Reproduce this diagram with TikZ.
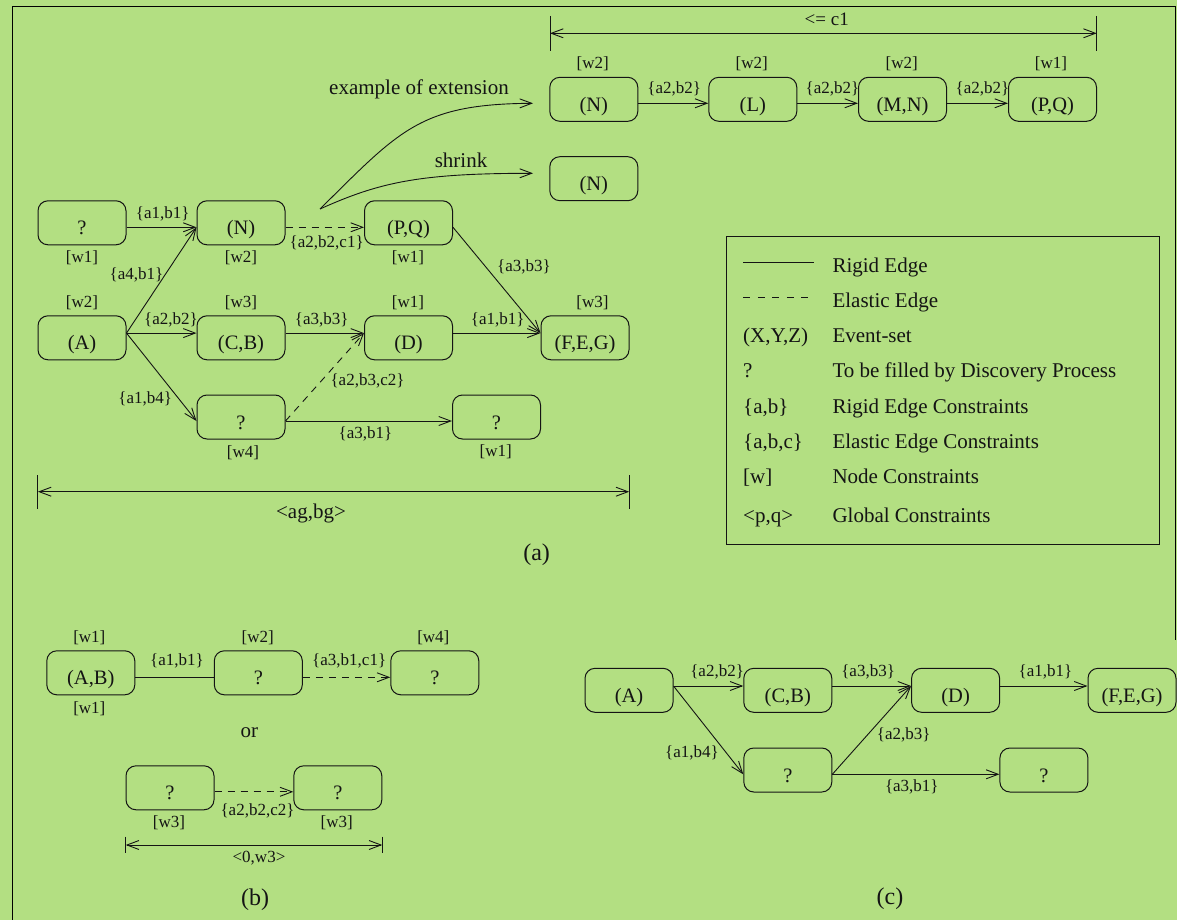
\documentclass[tikz,border=0pt]{standalone}
\usepackage{fontspec}
\setmainfont{Liberation Serif}
\usetikzlibrary{arrows.meta,calc}
\definecolor{bg}{RGB}{179,223,130}
\definecolor{ink}{RGB}{20,20,20}
\newcommand{\fsz}[1]{\fontsize{#1}{#1}\selectfont}
\begin{document}
\begin{tikzpicture}[x=1pt,y=-1pt,
  every node/.style={text=ink},
  box/.style={draw=ink, line width=1pt, rounded corners=10pt, minimum width=88pt,
    inner sep=0pt, text height=34pt, text depth=10pt, font=\fsz{20.5}},
  elab/.style={inner sep=0pt, font=\fsz{17}},
  big/.style={inner sep=0pt, font=\fsz{21}},
  rig/.style={draw=ink, line width=0.9pt, -{Straight Barb[length=12pt,width=9pt,line width=0.9pt]}},
  ela/.style={rig, dash pattern=on 7pt off 6pt},
  plain/.style={draw=ink, line width=0.9pt},
  dimline/.style={draw=ink, line width=0.9pt, {Straight Barb[length=12pt,width=9pt,line width=0.9pt]}-{Straight Barb[length=12pt,width=9pt,line width=0.9pt]}}
]
\fill[bg] (0,0) rectangle (1177,920);
\useasboundingbox (0,0) rectangle (1177,920);
% frame
\coordinate (fbl) at (12,920);
\coordinate (ftl) at (12,6.7);
\coordinate (ftr) at (1175,6.7);
\coordinate (frb) at (1175,640);
\draw[line width=1pt, black] (fbl) -- (ftl) -- (ftr) -- (frb);

% ================= (a) =================
\node[box] (q1) at (82,222.8) {?};
\node[box] (n1) at (241,222.8) {(N)};
\node[box] (pq) at (408.5,222.8) {(P,Q)};
\node[box] (a) at (82,337.8) {(A)};
\node[box] (cb) at (241,337.8) {(C,B)};
\node[box] (d) at (408.5,337.8) {(D)};
\node[box] (feg) at (585,337.8) {(F,E,G)};
\node[box] (qb) at (241,417) {?};
\node[box] (qr) at (496.5,417) {?};

\node[elab] (wq1) at (82,258) {[w1]};
\node[elab] (wn1) at (241,258) {[w2]};
\node[elab] (wpq) at (408,258) {[w1]};
\node[elab] (wa) at (82,302.7) {[w2]};
\node[elab] (wcb) at (241,302.7) {[w3]};
\node[elab] (wd) at (408,302.7) {[w1]};
\node[elab] (wfeg) at (592.5,302.7) {[w3]};
\node[elab] (wqb) at (243,452.7) {[w4]};
\node[elab] (wqr) at (495.7,451.7) {[w1]};

\draw[rig] ($(q1.east)+(0,4.5)$) -- ($(n1.west)+(0,4.5)$);
\draw[rig] ($(a.east)+(0,-4.7)$) -- ($(n1.west)+(0,4.5)$);
\draw[rig] ($(a.east)+(0,-4.7)$) -- ($(cb.west)+(0,-4.7)$);
\draw[rig] ($(a.east)+(0,-4.7)$) -- ($(qb.west)+(0,4)$);
\draw[ela] ($(n1.east)+(0,4.5)$) -- ($(pq.west)+(0,4.5)$);
\draw[rig] ($(cb.east)+(0,-4.7)$) -- ($(d.west)+(0,-4.7)$);
\draw[ela] ($(qb.east)+(0,4)$) -- ($(d.west)+(0,-4.7)$);
\draw[rig] ($(qb.east)+(0,4)$) -- ($(qr.west)+(0,4)$);
\draw[rig] ($(pq.east)+(0,4.5)$) -- ($(feg.west)+(0,-4.7)$);
\draw[rig] ($(d.east)+(0,-4.7)$) -- ($(feg.west)+(0,-4.7)$);

\node[elab] (e1) at (162.7,214) {\{a1,b1\}};
\node[elab] (e2) at (136.5,275) {\{a4,b1\}};
\node[elab] (e3) at (171,320) {\{a2,b2\}};
\node[elab] (e4) at (145.3,399.3) {\{a1,b4\}};
\node[elab] (e5) at (326.7,243.3) {\{a2,b2,c1\}};
\node[elab] (e6) at (321.7,320) {\{a3,b3\}};
\node[elab] (e7) at (367.5,380.7) {\{a2,b3,c2\}};
\node[elab] (e8) at (365.5,434.3) {\{a3,b1\}};
\node[elab] (e9) at (524,266.7) {\{a3,b3\}};
\node[elab] (e10) at (497.8,320) {\{a1,b1\}};

% bottom dimension of (a)
\coordinate (ga1) at (37.9,475);
\coordinate (ga2) at (37.9,509);
\coordinate (gb1) at (629.2,475);
\coordinate (gb2) at (629.2,509);
\coordinate (gl) at (37.9,491.7);
\coordinate (gr) at (629.2,491.7);
\draw[plain] (ga1) -- (ga2);
\draw[plain] (gb1) -- (gb2);
\draw[dimline] (gl) -- (gr);
\node[big] (agbg) at (311,513.3) {<ag,bg>};
\node[inner sep=0pt, font=\fsz{24}] (la) at (536.6,555) {(a)};

% extension / shrink
\coordinate (ext) at (320,209);
\coordinate (extend) at (533,103.3);
\coordinate (shrend) at (533,173.3);
\draw[rig] (ext) .. controls (400,130) and (420,104) .. (extend);
\draw[rig] (ext) .. controls (380,182) and (420,173.3) .. (shrend);
\node[big] (lext) at (419,89) {example of extension};
\node[big] (lshr) at (461,160) {shrink};

% top row
\node[box] (tn) at (593.8,99.3) {(N)};
\node[box] (tl) at (752.8,99.3) {(L)};
\node[box] (tmn) at (902.5,99.3) {(M,N)};
\node[box] (tpq) at (1052.5,99.3) {(P,Q)};
\node[box] (sn) at (593.8,178.7) {(N)};
\node[elab] (wtn) at (592.7,64) {[w2]};
\node[elab] (wtl) at (751.7,64) {[w2]};
\node[elab] (wtmn) at (901.7,64) {[w2]};
\node[elab] (wtpq) at (1051,64) {[w1]};
\draw[rig] ($(tn.east)+(0,4)$) -- ($(tl.west)+(0,4)$);
\draw[rig] ($(tl.east)+(0,4)$) -- ($(tmn.west)+(0,4)$);
\draw[rig] ($(tmn.east)+(0,4)$) -- ($(tpq.west)+(0,4)$);
\node[elab] (t1) at (674.2,89) {\{a2,b2\}};
\node[elab] (t2) at (832.5,89) {\{a2,b2\}};
\node[elab] (t3) at (982.5,89) {\{a2,b2\}};
% top dimension
\coordinate (ca1) at (550,16);
\coordinate (ca2) at (550,50.7);
\coordinate (cb1) at (1096.7,16);
\coordinate (cb2) at (1096.7,50.7);
\coordinate (cl) at (550,33.3);
\coordinate (cr) at (1096.7,33.3);
\draw[plain] (ca1) -- (ca2);
\draw[plain] (cb1) -- (cb2);
\draw[dimline] (cl) -- (cr);
\node[inner sep=0pt, font=\fsz{19}] (lc1) at (826.7,19) {<= c1};

% legend
\node[draw=ink, line width=1pt, minimum width=432.7pt, minimum height=308.6pt, inner sep=0pt, anchor=north west] (leg) at (726,235.7) {};
\coordinate (lg1a) at (743.3,262.3);
\coordinate (lg1b) at (814,262.3);
\coordinate (lg2a) at (743.3,297.7);
\coordinate (lg2b) at (808,297.7);
\draw[plain] (lg1a) -- (lg1b);
\draw[plain, dash pattern=on 7pt off 7.5pt] (lg2a) -- (lg2b);
\node[big, anchor=base west] (s3) at (743,342.7) {(X,Y,Z)};
\node[big, anchor=base west] (s4) at (743,377.3) {?};
\node[big, anchor=base west] (s5) at (743,413.3) {\{a,b\}};
\node[big, anchor=base west] (s6) at (743,448.3) {\{a,b,c\}};
\node[big, anchor=base west] (s7) at (743,483.3) {[w]};
\node[big, anchor=base west] (s8) at (743,522.7) {<p,q>};
\node[big, anchor=base west] (d1) at (832.3,272.3) {Rigid Edge};
\node[big, anchor=base west] (d2) at (832.3,307.3) {Elastic Edge};
\node[big, anchor=base west] (d3) at (832.3,342.7) {Event-set};
\node[big, anchor=base west] (d4) at (832.3,377.3) {To be filled by Discovery Process};
\node[big, anchor=base west] (d5) at (832.3,413.3) {Rigid Edge Constraints};
\node[big, anchor=base west] (d6) at (832.3,448.3) {Elastic Edge Constraints};
\node[big, anchor=base west] (d7) at (832.3,483.3) {Node Constraints};
\node[big, anchor=base west] (d8) at (832.3,522.7) {Global Constraints};

% ================= (b) =================
\node[box] (ab) at (90.8,672.8) {(A,B)};
\node[box] (q2) at (258.3,672.8) {?};
\node[box] (q3) at (434.8,672.8) {?};
\node[elab] (wab) at (89.3,637.3) {[w1]};
\node[elab] (wq2) at (257.7,637.3) {[w2]};
\node[elab] (wq3) at (433.3,637.3) {[w4]};
\node[elab] (wab2) at (89.3,708.3) {[w1]};
\draw[plain] ($(ab.east)+(0,4.5)$) -- ($(q2.west)+(0,4.5)$);
\draw[ela] ($(q2.east)+(0,4.5)$) -- ($(q3.west)+(0,4.5)$);
\node[elab] (b1) at (177,660.7) {\{a1,b1\}};
\node[elab] (b2) at (349.2,660.7) {\{a3,b1,c1\}};
\node[big] (or) at (249.3,733) {or};
\node[box] (q4) at (170,787.8) {?};
\node[box] (q5) at (337.8,787.8) {?};
\draw[ela] ($(q4.east)+(0,4)$) -- ($(q5.west)+(0,4)$);
\node[elab] (b3) at (257.5,810.7) {\{a2,b2,c2\}};
\node[elab] (wq4) at (169,822.7) {[w3]};
\node[elab] (wq5) at (336.7,822.7) {[w3]};
\coordinate (ba1) at (125.7,836.7);
\coordinate (ba2) at (125.7,853.3);
\coordinate (bb1) at (382.3,836.7);
\coordinate (bb2) at (382.3,853.3);
\coordinate (bl) at (125.7,845);
\coordinate (br) at (382.3,845);
\draw[plain] (ba1) -- (ba2);
\draw[plain] (bb1) -- (bb2);
\draw[dimline] (bl) -- (br);
\node[elab] (b4) at (259,858.3) {<0,w3>};
\node[inner sep=0pt, font=\fsz{24}] (lb) at (255,900) {(b)};

% ================= (c) =================
\node[box] (ca) at (629,690.3) {(A)};
\node[box] (ccb) at (787.8,690.3) {(C,B)};
\node[box] (cd) at (955.6,690.3) {(D)};
\node[box] (cfeg) at (1132,690.3) {(F,E,G)};
\node[box] (cq) at (787.8,770) {?};
\node[box] (cqr) at (1043.9,770) {?};
\draw[rig] ($(ca.east)+(0,-4.3)$) -- ($(ccb.west)+(0,-4.3)$);
\draw[rig] ($(ccb.east)+(0,-4.3)$) -- ($(cd.west)+(0,-4.3)$);
\draw[rig] ($(cd.east)+(0,-4.3)$) -- ($(cfeg.west)+(0,-4.3)$);
\draw[rig] ($(ca.east)+(0,-4.3)$) -- ($(cq.west)+(0,4.3)$);
\draw[rig] ($(cq.east)+(0,4.3)$) -- ($(cd.west)+(0,-4.3)$);
\draw[rig] ($(cq.east)+(0,4.3)$) -- ($(cqr.west)+(0,4.3)$);
\node[elab] (c1) at (717.1,672.3) {\{a2,b2\}};
\node[elab] (c2) at (868.1,672.3) {\{a3,b3\}};
\node[elab] (c3) at (1045.4,672.3) {\{a1,b1\}};
\node[elab] (c4) at (692,753.3) {\{a1,b4\}};
\node[elab] (c5) at (903.7,735) {\{a2,b3\}};
\node[elab] (c6) at (911.8,786.7) {\{a3,b1\}};
\node[inner sep=0pt, font=\fsz{24}] (lcc) at (890,899) {(c)};
\end{tikzpicture}
\end{document}
